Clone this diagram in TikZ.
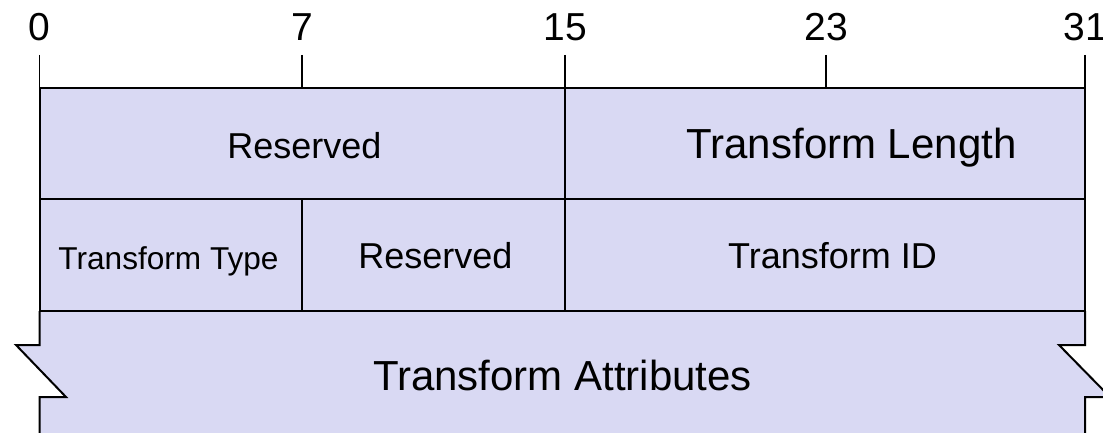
\documentclass[tikz,border=0pt]{standalone}
\usepackage{fontspec}
\setmainfont{Liberation Sans}
\usetikzlibrary{positioning}

\definecolor{fieldfill}{RGB}{217,217,243}

\tikzset{
    bitlabel/.style={anchor=base, inner sep=0pt, font=\fontsize{19.5}{22}\selectfont},
    bittick/.style={line width=0.6pt},
    fieldbig/.style={anchor=base, inner sep=0pt, font=\fontsize{21}{24}\selectfont},
    fieldmid/.style={anchor=base, inner sep=0pt, font=\fontsize{18}{21}\selectfont},
    fieldsmall/.style={anchor=base, inner sep=0pt, font=\fontsize{15.8}{18}\selectfont},
    fieldline/.style={line width=1pt, line join=miter}
}

\begin{document}
\begin{tikzpicture}[x=0.5pt,y=-0.5pt]
    \useasboundingbox (0,0) rectangle (1103,433);

    % Bit ruler
    \foreach \bit/\xpos in {0/39.5,7/302,15/565,23/826,31/1085} {
        \draw[bittick] (\xpos,55) -- (\xpos,88);
        \node[bitlabel] (bit\bit) at (\xpos,41) {\bit};
    }

    % Field background
    \fill[fieldfill] (39.5,88) rectangle (1085,311);
    \fill[fieldfill] (39.5,311) -- (39.5,345) -- (16,345) -- (66,397) -- (39.5,397) -- (39.5,440)
        -- (1085,440) -- (1085,397) -- (1110,397) -- (1059,345) -- (1085,345) -- (1085,311) -- cycle;

    % Field borders
    \draw[fieldline] (39.5,311) -- (39.5,88) -- (1085,88) -- (1085,311);
    \draw[fieldline] (39.5,199) -- (1085,199);
    \draw[fieldline] (39.5,311) -- (1085,311);
    \draw[fieldline] (565,88) -- (565,311);
    \draw[fieldline] (302,199) -- (302,311);

    % Torn edges of the variable field
    \draw[fieldline] (39.5,311) -- (39.5,345) -- (16,345) -- (66,397) -- (39.5,397) -- (39.5,440);
    \draw[fieldline] (1085,311) -- (1085,345) -- (1059,345) -- (1110,397) -- (1085,397) -- (1085,440);

    % Field names
    \node[fieldmid] (resvA) at (304.5,158) {Reserved};
    \node[fieldbig] (tlen) at (851.5,158) {Transform Length};
    \node[fieldsmall] (ttype) at (168.5,269) {Transform Type};
    \node[fieldmid] (resvB) at (435.5,268) {Reserved};
    \node[fieldmid] (tid) at (832.5,268) {Transform ID};
    \node[fieldbig] (tattr) at (562.5,390) {Transform Attributes};
\end{tikzpicture}
\end{document}
